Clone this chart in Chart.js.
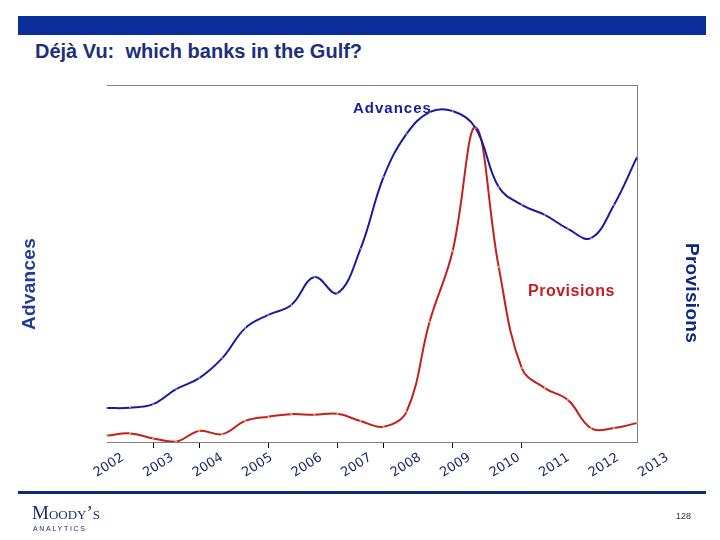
<!DOCTYPE html>
<html>
<head>
<meta charset="utf-8">
<script src="https://cdn.jsdelivr.net/npm/chart.js@4.4.1/dist/chart.umd.min.js"></script>
<style>
  html, body { margin: 0; padding: 0; background: #fff; }
  #page { position: relative; width: 720px; height: 540px; overflow: hidden; font-family: "Liberation Sans", Arial, sans-serif; }
  .bar { position: absolute; left: 18px; top: 16px; width: 688px; height: 19px; background: #0a2d9c; }
  .title { position: absolute; left: 35px; top: 40px; font-weight: bold; font-size: 20px; color: #1b2f7c; white-space: pre; }
  .rule { position: absolute; left: 18px; top: 491px; width: 688px; height: 3px; background: #0c2a80; }
  .logo { position: absolute; left: 32px; top: 502px; color: #1c2c6c; }
  .logo .m { font-family: "Liberation Serif", serif; font-size: 19px; font-variant: small-caps; line-height: 22px; }
  .logo .a { font-size: 7px; letter-spacing: 1.7px; line-height: 9px; margin-left: 1px; }
  .pg { position: absolute; left: 676px; top: 511px; font-size: 9px; color: #333; }
  canvas { position: absolute; left: 0; top: 0; }
</style>
</head>
<body>
<div id="page">
  <div class="bar"></div>
  <div class="title">Déjà Vu:  which banks in the Gulf?</div>
  <canvas id="chart" width="720" height="540"></canvas>
  <div class="rule"></div>
  <div class="logo"><div class="m">Moody’s</div><div class="a">ANALYTICS</div></div>
  <div class="pg">128</div>
</div>
<script>
// half-yearly points, 2002 H1 .. 2013 H2 (index, no units on the slide)
const periods = [
  '2002 H1', '2002 H2', '2003 H1', '2003 H2', '2004 H1', '2004 H2',
  '2005 H1', '2005 H2', '2006 H1', '2006 H2', '2007 H1', '2007 H2',
  '2008 H1', '2008 H2', '2009 H1', '2009 H2', '2010 H1', '2010 H2',
  '2011 H1', '2011 H2', '2012 H1', '2012 H2', '2013 H1', '2013 H2',
];
const advances = [9.5, 9.6, 10.6, 14.8, 17.9, 23.5, 31.9, 35.6, 38.4, 46.2, 41.7, 54.1,
  74.2, 86.3, 92.4, 92.7, 87.9, 71.4, 66.4, 63.6, 59.7, 57.1, 66.4, 79.8];
const provisions = [1.8, 2.4, 1.0, 0.1, 3.1, 2.2, 5.9, 7.1, 7.8, 7.6, 7.9, 5.9,
  4.3, 8.5, 33.7, 53.5, 88.2, 49.0, 20.7, 15.1, 11.8, 3.9, 3.9, 5.3];
const yearLabels = ['2002', '2003', '2004', '2005', '2006', '2007',
  '2008', '2009', '2010', '2011', '2012', '2013'];
// the slide's axis tick marks sit at these point indexes
const tickMarks = [2, 4, 7, 10, 12, 15, 18];

const navy = '#1c2a70';

// series names inside the plot and the two axis titles
const slideText = {
  id: 'slideText',
  afterDraw(chart) {
    const { ctx, chartArea: a } = chart;
    ctx.save();
    ctx.textBaseline = 'middle';

    ctx.font = 'bold 15px "Liberation Sans", Arial, sans-serif';
    ctx.letterSpacing = '1px';
    ctx.fillStyle = '#1a1aa0';
    ctx.fillText('Advances', a.left + 246, a.top + 24);

    ctx.font = 'bold 16px "Liberation Sans", Arial, sans-serif';
    ctx.letterSpacing = '0.5px';
    ctx.fillStyle = '#c41e1e';
    ctx.fillText('Provisions', a.left + 421, a.top + 207);

    ctx.font = 'bold 19px "Liberation Sans", Arial, sans-serif';
    ctx.letterSpacing = '0.3px';
    ctx.textAlign = 'center';
    ctx.fillStyle = '#1f3c99';
    ctx.save();
    ctx.translate(a.left - 77, a.top + 199);
    ctx.rotate(-Math.PI / 2);
    ctx.fillText('Advances', 0, 0);
    ctx.restore();

    ctx.fillStyle = '#0c2a80';
    ctx.translate(a.right + 54, a.top + 208);
    ctx.rotate(Math.PI / 2);
    ctx.fillText('Provisions', 0, 0);
    ctx.restore();
  },
};

new Chart(document.getElementById('chart'), {
  type: 'line',
  data: {
    labels: periods,
    datasets: [
      {
        label: 'Advances',
        data: advances,
        yAxisID: 'y',
        borderColor: '#1a1aa0',
        borderWidth: 2,
        tension: 0.4,
        pointRadius: 1,
        pointBorderWidth: 0,
        pointBackgroundColor: '#8a8ae0',
      },
      {
        label: 'Provisions',
        data: provisions,
        yAxisID: 'y1',
        borderColor: '#c41e1e',
        borderWidth: 2,
        tension: 0.4,
        pointRadius: 1,
        pointBorderWidth: 0,
        pointBackgroundColor: '#f0c040',
      },
    ],
  },
  options: {
    responsive: false,
    animation: false,
    layout: { padding: { left: 107, top: 85, right: 0, bottom: 46 } },
    plugins: { legend: { display: false }, tooltip: { enabled: false } },
    scales: {
      x: {
        type: 'category',
        position: 'bottom',
        weight: 0,
        afterBuildTicks: (s) => { s.ticks = tickMarks.map((v) => ({ value: v })); },
        ticks: { display: false },
        grid: { drawOnChartArea: false, tickLength: 6, color: '#000' },
        border: { color: '#808080' },
      },
      years: {
        type: 'linear',
        axis: 'x',
        position: 'bottom',
        weight: 1,
        min: 2001.676,
        max: 2012.383,
        afterBuildTicks: (s) => { s.ticks = yearLabels.map((y) => ({ value: Number(y) })); },
        afterFit: (s) => { s.height = 46; },
        ticks: {
          autoSkip: false,
          minRotation: 32,
          maxRotation: 32,
          padding: -6,
          color: navy,
          font: { family: '"DejaVu Sans", Verdana, sans-serif', size: 13 },
          callback: (v) => String(v),
        },
        grid: { display: false },
        border: { display: false },
      },
      xTop: {
        type: 'category',
        position: 'top',
        ticks: { display: false },
        grid: { drawOnChartArea: false, drawTicks: false },
        border: { color: '#808080' },
      },
      y: { display: false, min: 0, max: 100 },
      y1: {
        position: 'right',
        min: 0,
        max: 100,
        afterFit: (s) => { s.width = 83; },
        ticks: { display: false },
        grid: { drawOnChartArea: false, drawTicks: false },
        border: { color: '#808080' },
      },
    },
  },
  plugins: [slideText],
});
</script>
</body>
</html>
